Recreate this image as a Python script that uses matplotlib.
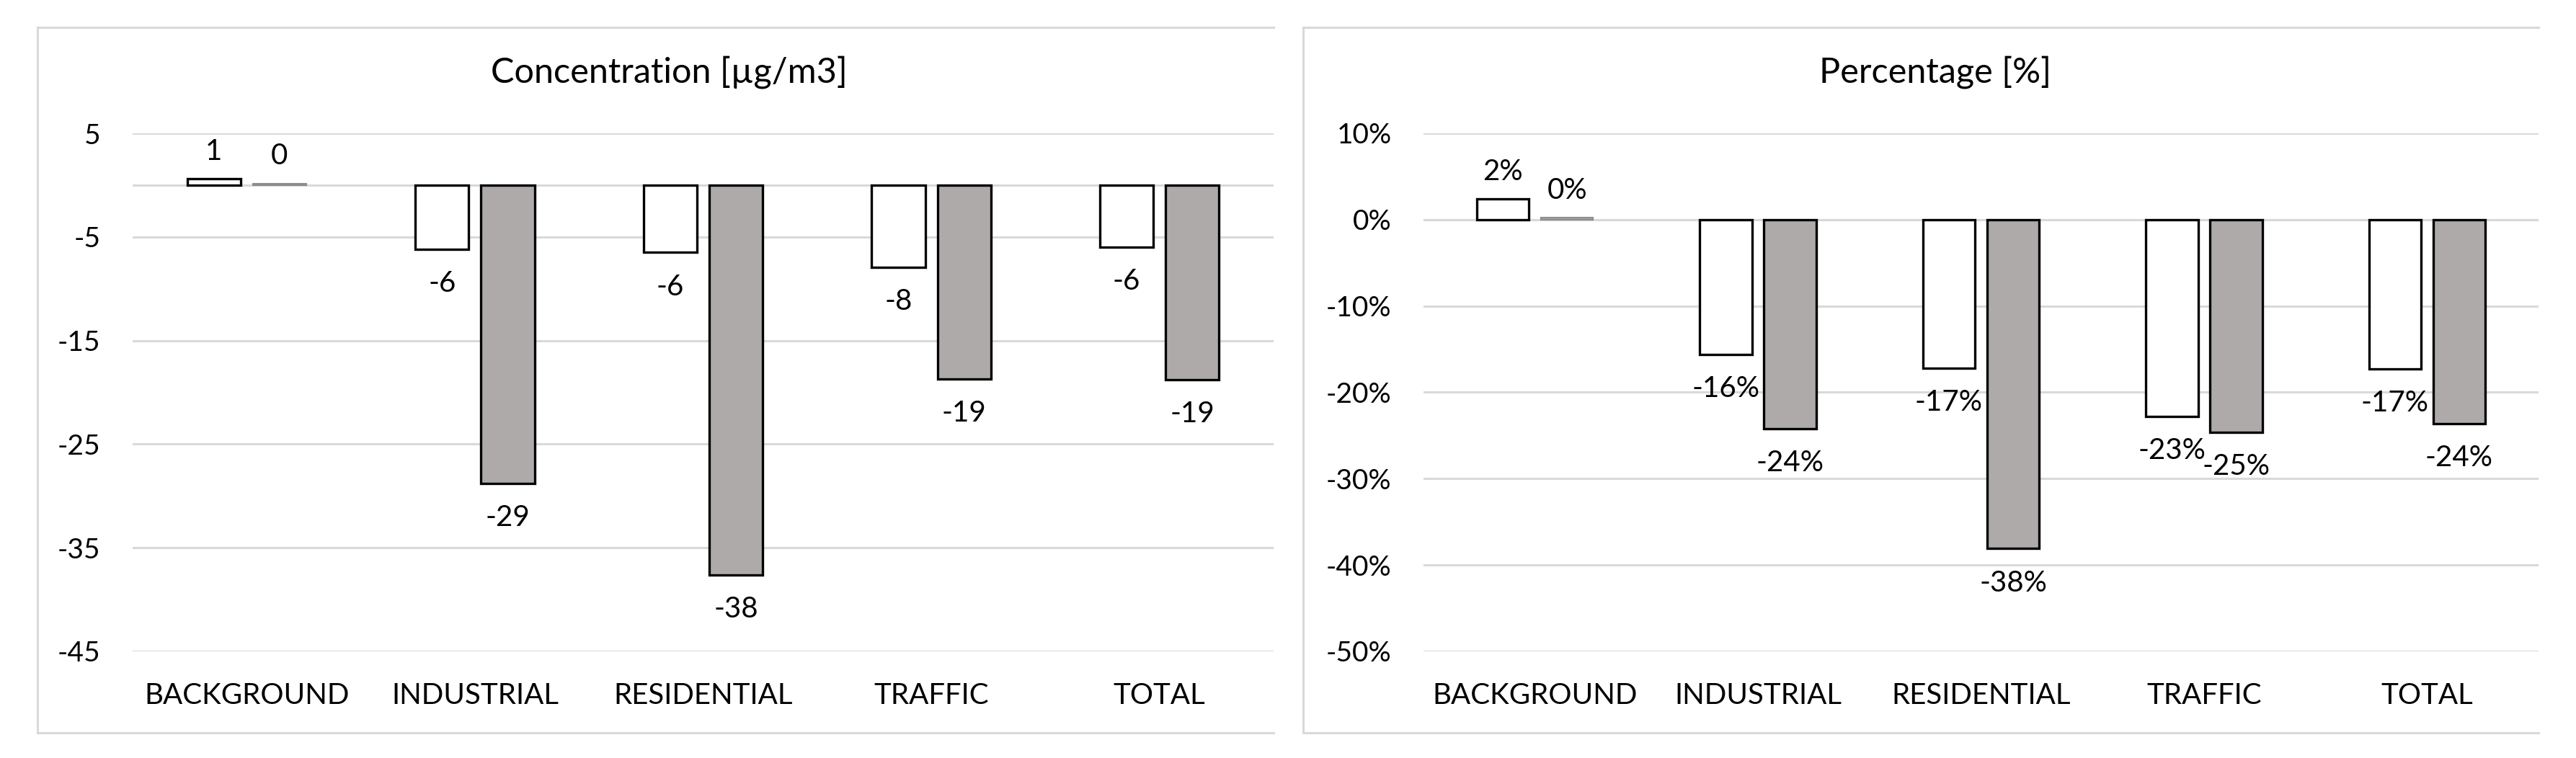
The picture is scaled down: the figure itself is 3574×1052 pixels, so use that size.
import matplotlib
matplotlib.use("Agg")
import matplotlib.pyplot as plt
from matplotlib.lines import Line2D
import numpy as np

plt.rcParams['font.family'] = ['Lato', 'DejaVu Sans']
plt.rcParams['axes.unicode_minus'] = False

categories = ["BACKGROUND", "INDUSTRIAL", "RESIDENTIAL", "TRAFFIC", "TOTAL"]

# concentration change [µg/m3]
conc_white = [0.6, -6.2, -6.5, -7.9, -6.0]
conc_grey = [0.15, -28.8, -37.6, -18.7, -18.8]
conc_ticks = [5, -5, -15, -25, -35, -45]

# percentage change [%]
pct_white = [2.4, -15.6, -17.2, -22.8, -17.3]
pct_grey = [0.2, -24.2, -38.1, -24.6, -23.6]
pct_ticks = [10, 0, -10, -20, -30, -40, -50]

W, H = 3574, 1052
fig = plt.figure(figsize=(W / 100, H / 100), dpi=100)

grid_col = '#d9d9d9'
grey_fill = '#aeaaaa'
bar_w = 0.234
off = 0.144


def px_axes(x0, x1, y0, y1):
    # pixel box (top-left origin) -> figure fraction axes
    return fig.add_axes([x0 / W, 1 - y1 / H, (x1 - x0) / W, (y1 - y0) / H])


def panel_border(x0, x1, y0, y1):
    for xs, ys in [([x0, x1], [y0, y0]), ([x0, x0], [y0, y1]), ([x0, x1], [y1, y1])]:
        fig.add_artist(Line2D([x / W for x in xs], [1 - y / H for y in ys],
                              color=grid_col, lw=2.2))


def draw(ax, white, grey, ticks, fmt, ylim):
    x = np.arange(len(categories))
    b1 = ax.bar(x - off, white, bar_w, color='white', edgecolor='black', lw=2.4, zorder=3)
    b2 = ax.bar(x + off, grey, bar_w, color=grey_fill, edgecolor='black', lw=2.4, zorder=3)
    # the near-zero grey bar shows up as a thin grey line in the original
    if abs(grey[0]) < 0.5:
        b2[0].set_edgecolor('#8c8c8c')
        b2[0].set_linewidth(1.5)
    for bars, vals in [(b1, white), (b2, grey)]:
        for rect, v in zip(bars, vals):
            cx = rect.get_x() + rect.get_width() / 2
            if v >= 0:
                ax.annotate(fmt(v), (cx, v), xytext=(0, 14), textcoords='offset points',
                            ha='center', va='bottom', fontsize=29)
            else:
                ax.annotate(fmt(v), (cx, v), xytext=(0, -21), textcoords='offset points',
                            ha='center', va='top', fontsize=29)
    ax.set_xlim(-0.5, len(categories) - 0.5)
    ax.set_ylim(*ylim)
    ax.set_yticks(ticks)
    ax.set_yticklabels([fmt(t) for t in ticks])
    ax.set_xticks(x)
    ax.set_xticklabels(categories)
    ax.axhline(0, color=grid_col, lw=2.2, zorder=1)
    ax.yaxis.grid(True, color=grid_col, lw=2.2, zorder=0)
    ax.set_axisbelow(True)
    for s in ax.spines.values():
        s.set_visible(False)
    ax.tick_params(axis='y', length=0, pad=32, labelsize=28)
    ax.tick_params(axis='x', length=0, pad=31, labelsize=29)


panel_border(52, 1767, 38, 1017)
panel_border(1808, 3522, 38, 1017)

ax1 = px_axes(184, 1767, 185, 904)
draw(ax1, conc_white, conc_grey, conc_ticks, lambda v: f"{v:.0f}", (-45, 5))
fig.text(928 / W, 1 - 100 / H, "Concentration [µg/m3]", ha='center', va='center', fontsize=35)

ax2 = px_axes(1975, 3522, 185, 904)
draw(ax2, pct_white, pct_grey, pct_ticks, lambda v: f"{v:.0f}%", (-50, 10))
fig.text(2685 / W, 1 - 100 / H, "Percentage [%]", ha='center', va='center', fontsize=35)

fig.savefig("out.png", dpi=100, facecolor='white')
